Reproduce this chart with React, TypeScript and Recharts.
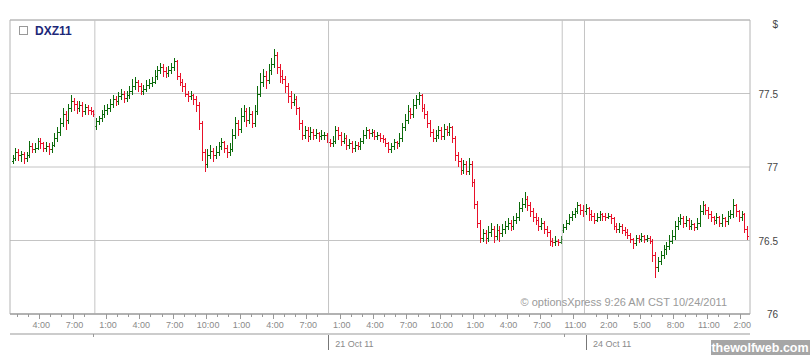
import React from 'react';
import { ComposedChart, Bar, XAxis, YAxis, CartesianGrid, ReferenceLine, ReferenceArea } from 'recharts';

// [open, high, low, close] per 15 min bar
type Ohlc = [number, number, number, number];

const oct19: Ohlc[] = [
  [77.04, 77.08, 77.03, 77.06], [77.06, 77.13, 77.05, 77.10], [77.10, 77.12, 77.05, 77.08], [77.08, 77.11, 77.04, 77.09],
  [77.09, 77.10, 77.03, 77.06], [77.06, 77.10, 77.04, 77.08], [77.08, 77.18, 77.07, 77.14], [77.14, 77.16, 77.10, 77.12],
  [77.12, 77.16, 77.10, 77.13], [77.13, 77.20, 77.12, 77.18], [77.18, 77.20, 77.13, 77.16], [77.16, 77.17, 77.11, 77.13],
  [77.13, 77.17, 77.11, 77.14], [77.14, 77.16, 77.09, 77.12], [77.12, 77.17, 77.10, 77.15], [77.15, 77.23, 77.14, 77.20],
  [77.20, 77.27, 77.18, 77.24], [77.24, 77.33, 77.22, 77.30], [77.30, 77.40, 77.28, 77.36], [77.36, 77.38, 77.26, 77.32],
  [77.32, 77.43, 77.30, 77.40], [77.40, 77.49, 77.38, 77.45], [77.45, 77.47, 77.39, 77.43], [77.43, 77.45, 77.37, 77.40],
  [77.40, 77.45, 77.38, 77.42], [77.42, 77.44, 77.35, 77.38], [77.38, 77.43, 77.36, 77.41], [77.41, 77.42, 77.36, 77.39],
  [77.39, 77.41, 77.36, 77.38], [77.38, 77.39, 77.35, 77.36],
];

const oct20: Ohlc[] = [
  [77.28, 77.33, 77.26, 77.31], [77.31, 77.35, 77.29, 77.33], [77.33, 77.39, 77.31, 77.36], [77.36, 77.42, 77.34, 77.39],
  [77.39, 77.43, 77.36, 77.40], [77.40, 77.46, 77.38, 77.43], [77.43, 77.49, 77.41, 77.46], [77.46, 77.48, 77.42, 77.45],
  [77.45, 77.51, 77.43, 77.48], [77.48, 77.53, 77.46, 77.50], [77.50, 77.52, 77.44, 77.47], [77.47, 77.52, 77.45, 77.49],
  [77.49, 77.55, 77.47, 77.52], [77.52, 77.60, 77.50, 77.55], [77.55, 77.61, 77.53, 77.58], [77.58, 77.59, 77.52, 77.55],
  [77.55, 77.57, 77.50, 77.52], [77.52, 77.56, 77.50, 77.53], [77.53, 77.59, 77.52, 77.56], [77.56, 77.60, 77.54, 77.57],
  [77.57, 77.61, 77.55, 77.58], [77.58, 77.66, 77.57, 77.62], [77.62, 77.69, 77.60, 77.66], [77.66, 77.71, 77.64, 77.68],
  [77.68, 77.70, 77.62, 77.65], [77.65, 77.68, 77.61, 77.64], [77.64, 77.69, 77.62, 77.66], [77.66, 77.71, 77.64, 77.68],
  [77.68, 77.74, 77.66, 77.72], [77.72, 77.73, 77.60, 77.62], [77.62, 77.64, 77.56, 77.58], [77.58, 77.60, 77.52, 77.55],
  [77.55, 77.57, 77.48, 77.50], [77.50, 77.52, 77.45, 77.48], [77.48, 77.52, 77.46, 77.49], [77.49, 77.50, 77.43, 77.46],
  [77.46, 77.48, 77.38, 77.42], [77.42, 77.44, 77.26, 77.30], [77.30, 77.31, 77.05, 77.10], [77.10, 77.12, 76.97, 77.02],
  [77.02, 77.12, 77.00, 77.08], [77.08, 77.15, 77.06, 77.11], [77.11, 77.13, 77.04, 77.08], [77.08, 77.14, 77.06, 77.10],
  [77.10, 77.17, 77.08, 77.14], [77.14, 77.20, 77.12, 77.17], [77.17, 77.18, 77.10, 77.13], [77.13, 77.15, 77.07, 77.10],
  [77.10, 77.16, 77.08, 77.12], [77.12, 77.26, 77.11, 77.22], [77.22, 77.34, 77.20, 77.30], [77.30, 77.32, 77.22, 77.26],
  [77.26, 77.40, 77.24, 77.35], [77.35, 77.42, 77.31, 77.38], [77.38, 77.40, 77.28, 77.32], [77.32, 77.41, 77.30, 77.36],
  [77.36, 77.38, 77.27, 77.30], [77.30, 77.42, 77.28, 77.38], [77.38, 77.55, 77.36, 77.50], [77.50, 77.64, 77.48, 77.58],
  [77.58, 77.67, 77.55, 77.62], [77.62, 77.65, 77.54, 77.59], [77.59, 77.70, 77.57, 77.66], [77.66, 77.74, 77.63, 77.70],
  [77.70, 77.80, 77.68, 77.76], [77.76, 77.78, 77.64, 77.68], [77.68, 77.70, 77.58, 77.62], [77.62, 77.66, 77.57, 77.60],
  [77.60, 77.62, 77.51, 77.55], [77.55, 77.57, 77.44, 77.48], [77.48, 77.52, 77.40, 77.44], [77.44, 77.50, 77.42, 77.46],
  [77.46, 77.48, 77.36, 77.40], [77.40, 77.41, 77.26, 77.30], [77.30, 77.32, 77.19, 77.22], [77.22, 77.28, 77.20, 77.25],
  [77.25, 77.27, 77.18, 77.21], [77.21, 77.27, 77.19, 77.24], [77.24, 77.26, 77.19, 77.22], [77.22, 77.26, 77.20, 77.23],
  [77.23, 77.24, 77.18, 77.21], [77.21, 77.25, 77.19, 77.22], [77.22, 77.24, 77.19, 77.22], [77.22, 77.23, 77.17, 77.20],
];

const oct21: Ohlc[] = [
  [77.17, 77.19, 77.14, 77.16], [77.16, 77.21, 77.14, 77.18], [77.18, 77.28, 77.16, 77.25], [77.25, 77.27, 77.19, 77.22],
  [77.22, 77.24, 77.15, 77.18], [77.18, 77.23, 77.16, 77.20], [77.20, 77.22, 77.12, 77.15], [77.15, 77.19, 77.13, 77.16],
  [77.16, 77.18, 77.10, 77.13], [77.13, 77.18, 77.11, 77.15], [77.15, 77.17, 77.12, 77.14], [77.14, 77.20, 77.12, 77.18],
  [77.18, 77.25, 77.16, 77.22], [77.22, 77.27, 77.20, 77.25], [77.25, 77.26, 77.20, 77.23], [77.23, 77.26, 77.21, 77.24],
  [77.24, 77.25, 77.19, 77.21], [77.21, 77.24, 77.19, 77.22], [77.22, 77.23, 77.18, 77.20], [77.20, 77.22, 77.17, 77.19],
  [77.19, 77.20, 77.14, 77.16], [77.16, 77.17, 77.10, 77.12], [77.12, 77.16, 77.10, 77.14], [77.14, 77.19, 77.12, 77.17],
  [77.17, 77.18, 77.13, 77.16], [77.16, 77.23, 77.14, 77.20], [77.20, 77.30, 77.18, 77.27], [77.27, 77.36, 77.25, 77.32],
  [77.32, 77.42, 77.30, 77.38], [77.38, 77.40, 77.33, 77.36], [77.36, 77.46, 77.34, 77.42], [77.42, 77.49, 77.40, 77.46],
  [77.46, 77.51, 77.43, 77.49], [77.49, 77.50, 77.38, 77.40], [77.40, 77.43, 77.33, 77.36], [77.36, 77.38, 77.27, 77.30],
  [77.30, 77.32, 77.21, 77.24], [77.24, 77.26, 77.18, 77.20], [77.20, 77.25, 77.18, 77.22], [77.22, 77.28, 77.20, 77.25],
  [77.25, 77.27, 77.19, 77.21], [77.21, 77.29, 77.19, 77.26], [77.26, 77.28, 77.22, 77.24], [77.24, 77.30, 77.22, 77.27],
  [77.27, 77.28, 77.17, 77.20], [77.20, 77.21, 77.05, 77.08], [77.08, 77.10, 77.01, 77.04], [77.04, 77.06, 76.95, 76.98],
  [76.98, 77.05, 76.96, 77.02], [77.02, 77.04, 76.95, 76.97], [76.97, 77.06, 76.95, 77.02], [77.02, 77.04, 76.87, 76.90],
  [76.90, 76.92, 76.72, 76.75], [76.75, 76.77, 76.59, 76.62], [76.62, 76.64, 76.49, 76.52], [76.52, 76.58, 76.50, 76.55],
  [76.55, 76.57, 76.48, 76.52], [76.52, 76.60, 76.50, 76.56], [76.56, 76.62, 76.53, 76.58], [76.58, 76.60, 76.49, 76.53],
  [76.53, 76.61, 76.51, 76.57], [76.57, 76.60, 76.50, 76.55], [76.55, 76.61, 76.53, 76.58], [76.58, 76.63, 76.55, 76.60],
  [76.60, 76.65, 76.58, 76.62], [76.62, 76.64, 76.57, 76.60], [76.60, 76.67, 76.58, 76.64], [76.64, 76.69, 76.62, 76.66],
  [76.66, 76.76, 76.64, 76.72], [76.72, 76.79, 76.70, 76.75], [76.75, 76.83, 76.73, 76.78], [76.78, 76.80, 76.71, 76.74],
  [76.74, 76.76, 76.67, 76.70], [76.70, 76.72, 76.63, 76.66], [76.66, 76.69, 76.61, 76.64], [76.64, 76.66, 76.57, 76.60],
  [76.60, 76.65, 76.58, 76.62], [76.62, 76.63, 76.55, 76.58], [76.58, 76.60, 76.53, 76.56], [76.56, 76.57, 76.47, 76.50],
  [76.50, 76.52, 76.46, 76.49], [76.49, 76.53, 76.47, 76.50], [76.50, 76.51, 76.47, 76.49], [76.49, 76.53, 76.48, 76.51],
];

// Sunday evening open through 24 Oct
const oct24: Ohlc[] = [
  [76.57, 76.61, 76.56, 76.59], [76.59, 76.64, 76.58, 76.62], [76.62, 76.68, 76.61, 76.66], [76.66, 76.70, 76.64, 76.68],
  [76.68, 76.72, 76.66, 76.70], [76.70, 76.76, 76.69, 76.74], [76.74, 76.75, 76.68, 76.71], [76.71, 76.74, 76.67, 76.70],
  [76.70, 76.75, 76.68, 76.72], [76.72, 76.73, 76.64, 76.68], [76.68, 76.71, 76.64, 76.67], [76.67, 76.69, 76.62, 76.64],
  [76.64, 76.69, 76.63, 76.66], [76.66, 76.70, 76.64, 76.68], [76.68, 76.69, 76.64, 76.67], [76.67, 76.69, 76.64, 76.66],
  [76.66, 76.69, 76.65, 76.67], [76.67, 76.68, 76.62, 76.65], [76.65, 76.66, 76.58, 76.60], [76.60, 76.62, 76.56, 76.58],
  [76.58, 76.62, 76.56, 76.60], [76.60, 76.61, 76.55, 76.57], [76.57, 76.59, 76.54, 76.56], [76.56, 76.58, 76.52, 76.54],
  [76.54, 76.55, 76.49, 76.51], [76.51, 76.52, 76.45, 76.48], [76.48, 76.54, 76.47, 76.52], [76.52, 76.54, 76.49, 76.51],
  [76.51, 76.55, 76.50, 76.53], [76.53, 76.54, 76.49, 76.51], [76.51, 76.54, 76.50, 76.52], [76.52, 76.53, 76.48, 76.50],
  [76.50, 76.51, 76.36, 76.40], [76.40, 76.42, 76.25, 76.32], [76.32, 76.39, 76.29, 76.36], [76.36, 76.43, 76.34, 76.40],
  [76.40, 76.47, 76.38, 76.44], [76.44, 76.49, 76.41, 76.46], [76.46, 76.54, 76.44, 76.50], [76.50, 76.57, 76.48, 76.53],
  [76.53, 76.63, 76.51, 76.60], [76.60, 76.66, 76.58, 76.63], [76.63, 76.68, 76.61, 76.65], [76.65, 76.67, 76.59, 76.62],
  [76.62, 76.67, 76.60, 76.64], [76.64, 76.65, 76.58, 76.60], [76.60, 76.64, 76.58, 76.61], [76.61, 76.62, 76.57, 76.59],
  [76.59, 76.65, 76.58, 76.62], [76.62, 76.74, 76.60, 76.70], [76.70, 76.77, 76.68, 76.74], [76.74, 76.75, 76.68, 76.71],
  [76.71, 76.73, 76.65, 76.68], [76.68, 76.70, 76.63, 76.66], [76.66, 76.67, 76.61, 76.64], [76.64, 76.69, 76.62, 76.66],
  [76.66, 76.67, 76.60, 76.62], [76.62, 76.68, 76.60, 76.65], [76.65, 76.66, 76.60, 76.63], [76.63, 76.70, 76.61, 76.67],
  [76.67, 76.71, 76.65, 76.68], [76.68, 76.78, 76.66, 76.74], [76.74, 76.75, 76.67, 76.70], [76.70, 76.71, 76.63, 76.66],
  [76.66, 76.70, 76.64, 76.68], [76.68, 76.69, 76.56, 76.58], [76.58, 76.60, 76.51, 76.53],
];

const priceTicks = [76, 76.5, 77, 77.5];

// x positions are in 15 minute slots
const sessionBreaks = [29.5, 113.5, 197.5, 205.5];
const hourTicks = [9.5, 21.5, 33.5, 45.5, 57.5, 69.5, 81.5, 93.5, 105.5, 117.5, 129.5, 141.5, 153.5, 165.5, 177.5, 189.5, 201.5, 213.5, 225.5, 237.5, 249.5, 261.5];
const hourLabels = ['4:00', '7:00', '1:00', '4:00', '7:00', '10:00', '1:00', '4:00', '7:00', '1:00', '4:00', '7:00', '10:00', '1:00', '4:00', '7:00', '11:00', '2:00', '5:00', '8:00', '11:00', '2:00'];
const minorTicks = [1.5, 5.5, 13.5, 17.5, 25.5, 37.5, 41.5, 49.5, 53.5, 61.5, 65.5, 73.5, 77.5, 85.5, 89.5, 97.5, 101.5, 109.5,
  121.5, 125.5, 133.5, 137.5, 145.5, 149.5, 157.5, 161.5, 169.5, 173.5, 181.5, 185.5, 193.5, 209.5, 217.5, 221.5, 229.5, 233.5,
  241.5, 245.5, 253.5, 257.5];
const dateTicks = [29.5, 113.5, 197.5, 205.5];
const dateLabels = ['', '21 Oct 11', '', '24 Oct 11'];

const bars = [...oct19, ...oct20, ...oct21, ...oct24].map(([open, high, low, close], i) => ({ t: i, open, high, low, close }));
const allTicks = [...hourTicks, ...minorTicks].sort((a, b) => a - b);

const FONT = '"Liberation Sans", Arial, sans-serif';
const GRID = '#c4c4c4';

function OhlcShape(props: any) {
  const { x, y, width, height, payload } = props;
  if (x == null || !payload) return null;
  const top = Math.min(y, y + height);
  const bottom = Math.max(y, y + height);
  const span = payload.high - payload.low || 1;
  const toY = (v: number) => top + ((payload.high - v) / span) * (bottom - top);
  const cx = Math.round(x + width / 2) + 0.5;
  const color = payload.close >= payload.open ? '#0b6a0b' : '#e8112a';
  const yo = Math.round(toY(payload.open)) + 0.5;
  const yc = Math.round(toY(payload.close)) + 0.5;
  return (
    <g stroke={color} strokeWidth={1}>
      <line x1={cx} x2={cx} y1={Math.round(top)} y2={Math.round(bottom) + 1} />
      <line x1={cx - 1.5} x2={cx - 0.5} y1={yo} y2={yo} />
      <line x1={cx + 0.5} x2={cx + 1.5} y1={yc} y2={yc} />
    </g>
  );
}

function HourTick(props: any) {
  const { x, y, payload } = props;
  const idx = hourTicks.indexOf(payload.value);
  const px = Math.round(x) + 0.5;
  if (idx < 0) return <line x1={px} x2={px} y1={y} y2={y + 3} stroke="#999" />;
  return (
    <g>
      <line x1={px} x2={px} y1={y} y2={y + 5} stroke="#999" />
      <text x={x + 2} y={y + 14} textAnchor="middle" fontSize={9} fontFamily={FONT} fill="#8a8a8a">
        {hourLabels[idx]}
      </text>
    </g>
  );
}

function DateTick(props: any) {
  const { x, y, payload } = props;
  const idx = dateTicks.indexOf(payload.value);
  const label = idx >= 0 ? dateLabels[idx] : '';
  const px = Math.round(x) + 0.5;
  if (!label) return <line x1={px} x2={px} y1={y} y2={y + 3} stroke="#999" />;
  return (
    <g>
      <line x1={px} x2={px} y1={y + 1} y2={y + 16} stroke="#777" />
      <text x={x + 7} y={y + 13} fontSize={9} fontFamily={FONT} fill="#8a8a8a">
        {label}
      </text>
    </g>
  );
}

function PriceTick(props: any) {
  const { x, y, payload } = props;
  return (
    <text x={x + 28} y={y + 4} textAnchor="end" fontSize={10} fontFamily={FONT} fill="#444">
      {payload.value}
    </text>
  );
}

export default function App() {
  return (
    <div style={{ position: 'absolute', left: 0, top: 0, width: 810, height: 355, background: '#fff' }}>
      <ComposedChart width={810} height={355} data={bars} margin={{ top: 20, right: 0, bottom: 0, left: 10 }}>
        <CartesianGrid xAxisId={0} vertical={false} stroke={GRID} />
        <XAxis
          xAxisId={0}
          dataKey="t"
          type="number"
          domain={[-1, 265]}
          allowDataOverflow
          ticks={allTicks}
          interval={0}
          tickLine={false}
          tickSize={0}
          tickMargin={0}
          axisLine={{ stroke: '#999' }}
          height={20}
          tick={<HourTick />}
        />
        <XAxis
          xAxisId={1}
          type="number"
          domain={[-1, 265]}
          allowDataOverflow
          ticks={dateTicks}
          interval={0}
          tickLine={false}
          tickSize={0}
          tickMargin={0}
          axisLine={{ stroke: '#999' }}
          height={21}
          tick={<DateTick />}
        />
        <YAxis
          orientation="right"
          domain={[76, 78]}
          allowDataOverflow
          ticks={priceTicks}
          interval={0}
          width={60}
          tickLine={false}
          axisLine={false}
          tickSize={0}
          tickMargin={0}
          tick={<PriceTick />}
        />
        <ReferenceArea xAxisId={0} x1={-1} x2={265} y1={76} y2={78} fill="none" stroke="#b4b4b4" />
        {sessionBreaks.map((b) => (
          <ReferenceLine key={b} xAxisId={0} x={b} stroke={GRID} />
        ))}
        <Bar
          xAxisId={0}
          dataKey={(d: any) => [d.low, d.high]}
          barSize={3}
          shape={<OhlcShape />}
          isAnimationActive={false}
        />
      </ComposedChart>
      <svg width={810} height={355} style={{ position: 'absolute', left: 0, top: 0, pointerEvents: 'none' }}>
        <rect x={19.5} y={26.5} width={8} height={8} fill="#fff" stroke="#999" />
        <text x={35} y={35} fontSize={12} fontWeight="bold" fontFamily={FONT} fill="#1c2778">DXZ11</text>
        <text x={778} y={28} fontSize={10} textAnchor="end" fontFamily={FONT} fill="#444">$</text>
        <text x={727} y={306} fontSize={11} textAnchor="end" fontFamily={FONT} fill="#9a9a9a">
          © optionsXpress 9:26 AM CST 10/24/2011
        </text>
        <rect x={711} y={340} width={99} height={15} fill="#a6a6a6" />
        <text x={760} y={352} fontSize={12.5} fontWeight="bold" textAnchor="middle" fontFamily={FONT} fill="#fff">
          thewolfweb.com
        </text>
      </svg>
    </div>
  );
}
